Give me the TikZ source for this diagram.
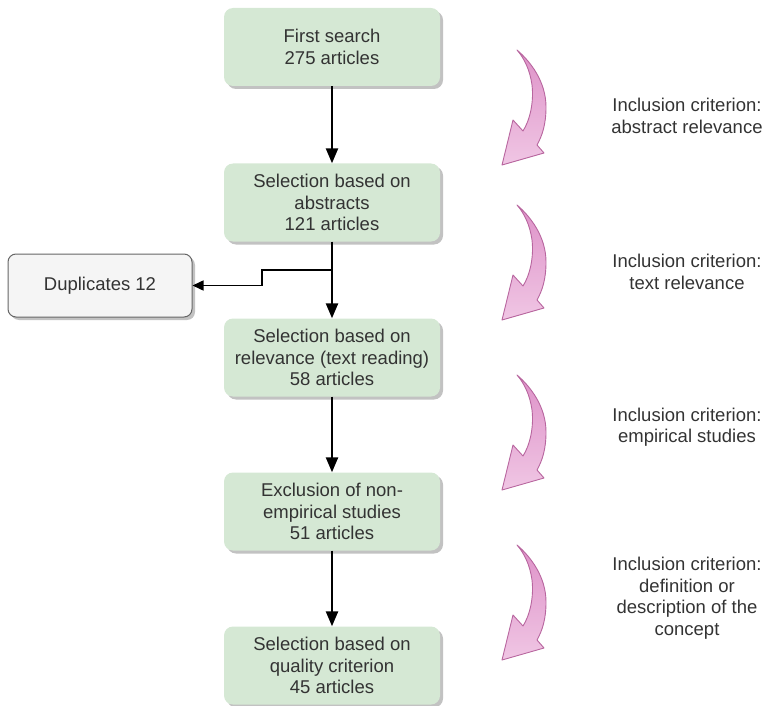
\documentclass[tikz,border=0pt]{standalone}
\usepackage{fontspec}
\setmainfont{Liberation Sans}
\usetikzlibrary{arrows.meta,shadows}
\definecolor{stagegreen}{HTML}{D5E8D4}
\definecolor{dupfill}{HTML}{F5F5F5}
\definecolor{dupdraw}{HTML}{666666}
\definecolor{textgray}{HTML}{333333}
\definecolor{pinkdraw}{HTML}{B8669F}
\definecolor{pinktop}{HTML}{DE92C8}
\definecolor{pinkbot}{HTML}{F0C6E4}
\begin{document}
\begin{tikzpicture}[x=1pt,y=-1pt,
  every node/.style={font=\fontsize{18.5}{21.5}\selectfont, text=textgray, align=center},
  boxshadow/.style={drop shadow={shadow xshift=3pt, shadow yshift=-3pt, fill=black!40, opacity=0.6}},
  stage/.style={rounded corners=9pt, fill=stagegreen, draw=none, minimum width=216pt, minimum height=78pt, inner sep=0pt, boxshadow},
  dupbox/.style={rounded corners=8pt, fill=dupfill, draw=dupdraw, line width=1pt, minimum width=184pt, minimum height=63pt, inner sep=0pt, boxshadow},
  flow/.style={-{Triangle[length=15pt,width=12pt]}, line width=2.5pt, black},
  sideflow/.style={-{Triangle[length=11pt,width=10pt]}, line width=1.5pt, black},
  curvearrow/.style={draw=pinkdraw, line width=0.9pt, top color=pinktop, bottom color=pinkbot, line join=round},
  crv/.pic={\path[curvearrow] (0,0) .. controls (14,12) and (29,32) .. (29,57) .. controls (29,75) and (25,86) .. (20,95) -- (27,103) -- (-15,115) -- (-4,70) -- (6,81) .. controls (13,70) and (17,52) .. (15,35) .. controls (13,20) and (7,8) .. cycle;}
]
\useasboundingbox (0,0) rectangle (763,706);

\node[stage] (s1) at (332,47) {First search\\275 articles};
\node[stage] (s2) at (332,202.5) {Selection based on\\abstracts\\121 articles};
\node[stage] (s3) at (332,357.5) {Selection based on\\relevance (text reading)\\58 articles};
\node[stage] (s4) at (332,511.5) {Exclusion of non-\\empirical studies\\51 articles};
\node[stage] (s5) at (332,665.5) {Selection based on\\quality criterion\\45 articles};
\node[dupbox] (dup) at (100,285.5) {Duplicates 12};

\draw[flow] (s1) -- (s2);
\draw[flow] (s2) -- (s3);
\draw[flow] (s3) -- (s4);
\draw[flow] (s4) -- (s5);
\coordinate (br) at (332,270);
\draw[sideflow] (br) -- ++(-70,0) |- (dup.east);

\pic at (517,50) {crv};
\pic at (517,205) {crv};
\pic at (517,375) {crv};
\pic at (517,545) {crv};

\node (c1) at (687,116) {Inclusion criterion:\\abstract relevance};
\node (c2) at (687,272) {Inclusion criterion:\\text relevance};
\node (c3) at (687,427) {Inclusion criterion:\\empirical studies};
\node (c4) at (687,598) {Inclusion criterion:\\definition or\\description of the\\concept};
\end{tikzpicture}
\end{document}
